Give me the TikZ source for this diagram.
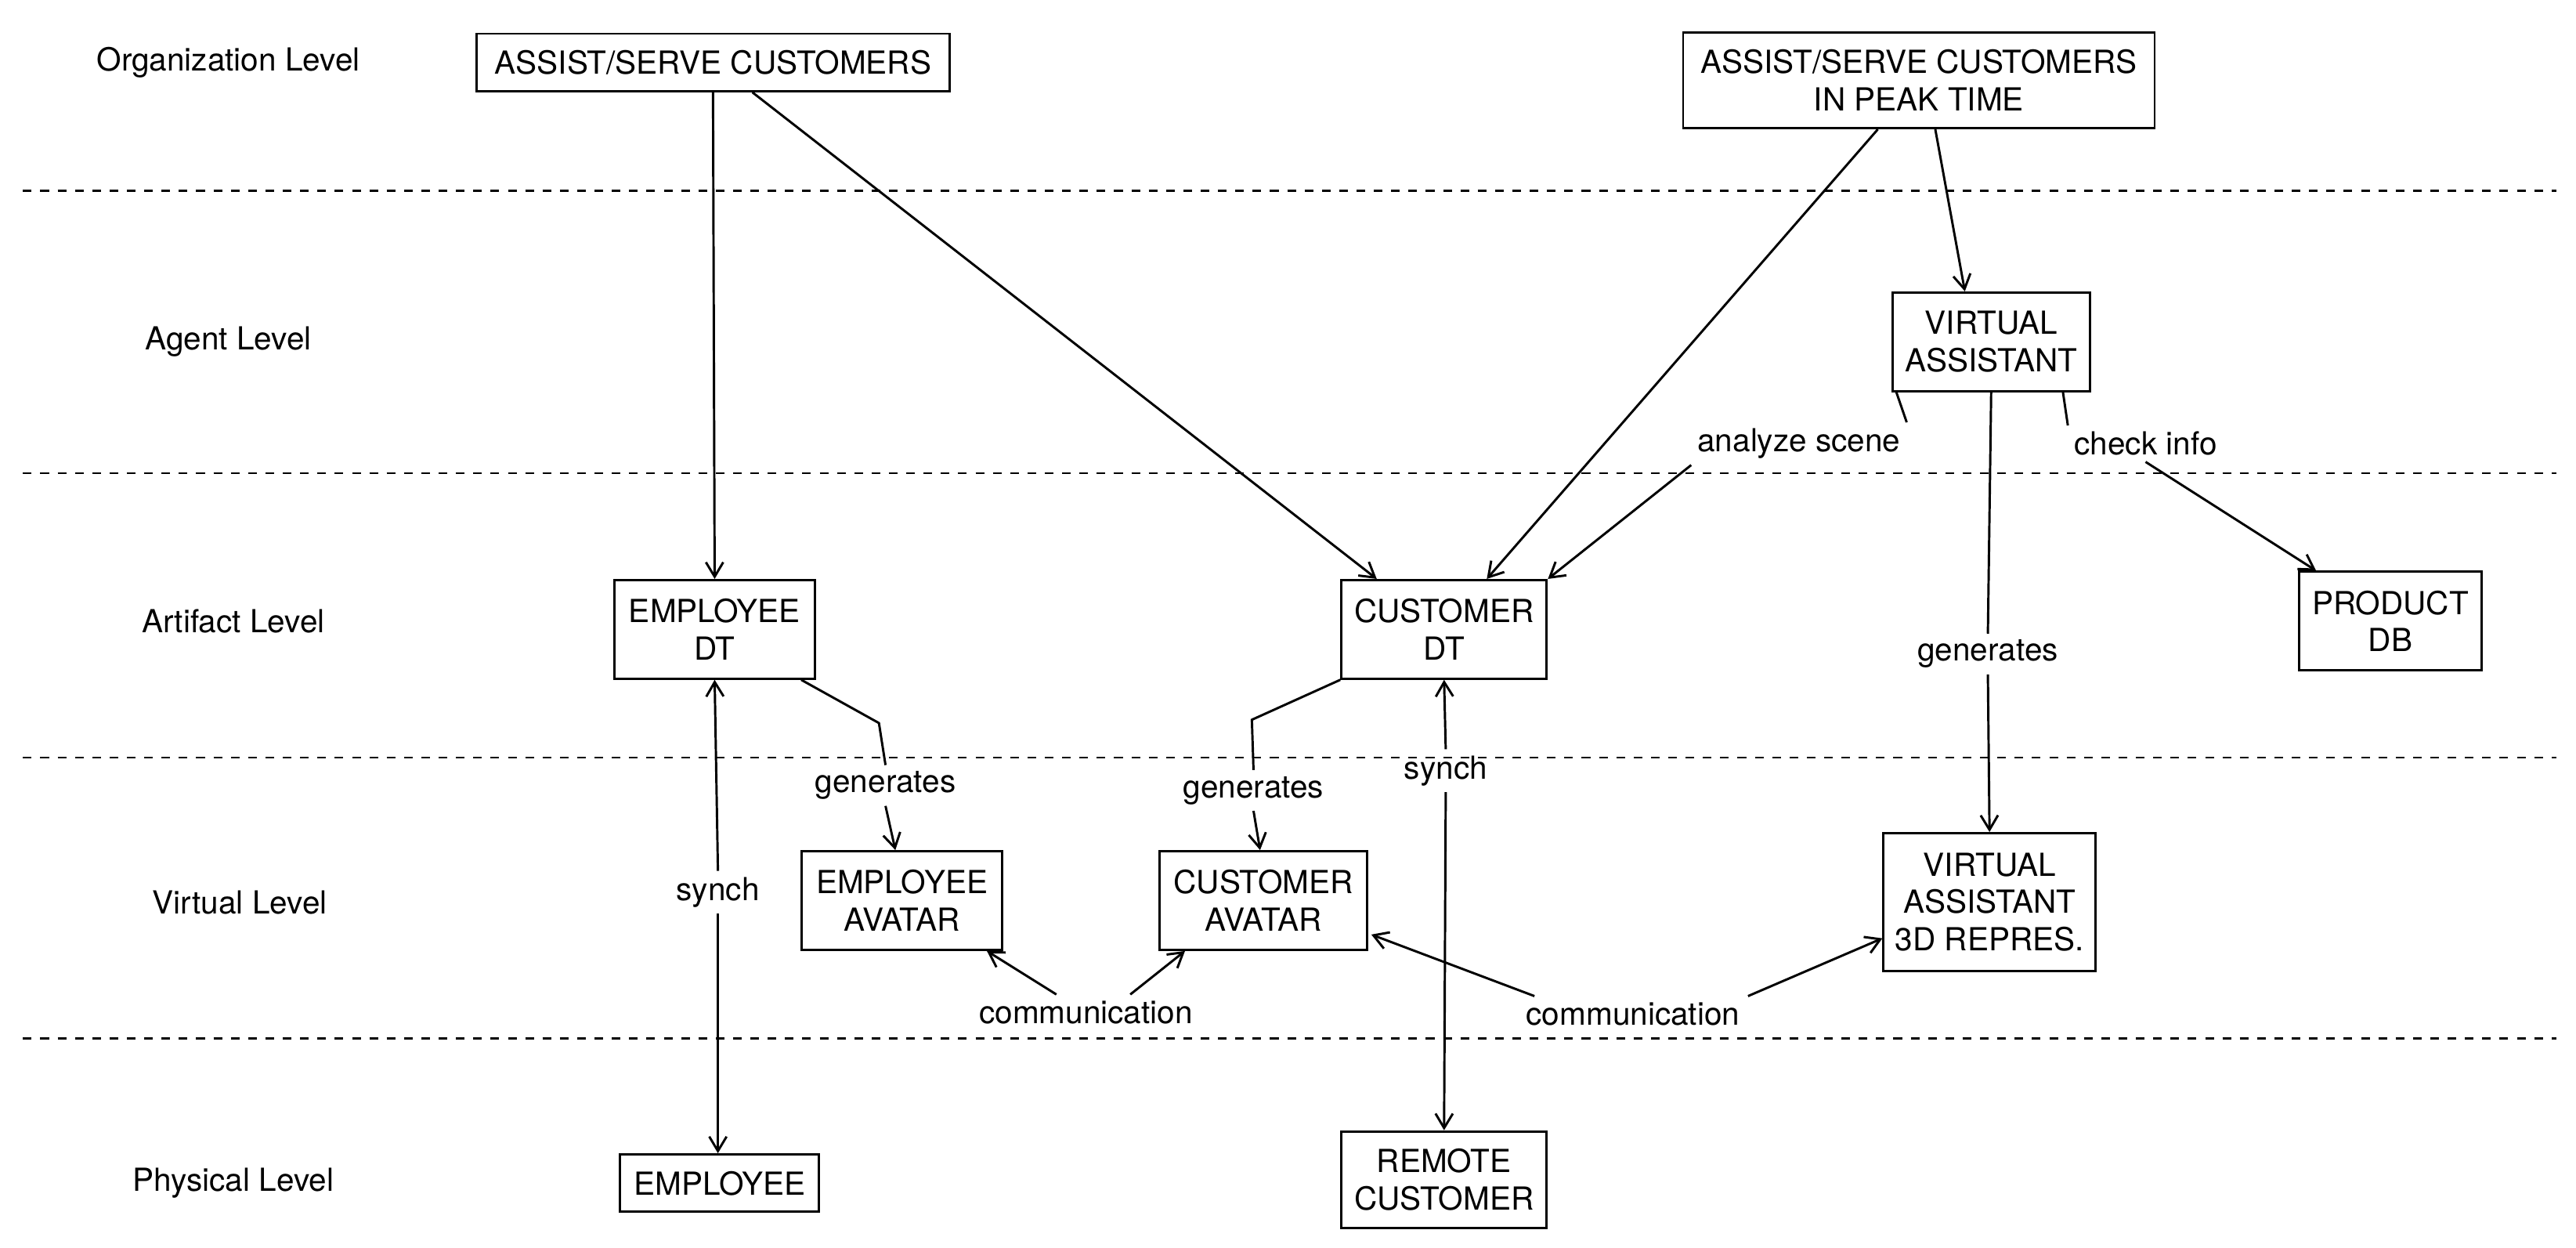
\documentclass[tikz,border=0pt]{standalone}
\usepackage{fontspec}
\setmainfont{TeX Gyre Heros}
\usetikzlibrary{calc,arrows.meta}
\begin{document}
\begin{tikzpicture}[x=0.02cm,y=-0.02cm,
  box/.style={draw,line width=0.8pt,align=center,inner sep=0pt,font=\fontsize{11}{13}\selectfont},
  lbl/.style={inner sep=2pt,font=\fontsize{11}{13}\selectfont},
  lvl/.style={font=\fontsize{11}{13}\selectfont},
  ln/.style={line width=0.8pt},
  ar/.style={ln,-{Straight Barb[length=5pt,width=6pt]}},
  dar/.style={ln,{Straight Barb[length=5pt,width=6pt]}-{Straight Barb[length=5pt,width=6pt]}}]
\useasboundingbox (0,0) rectangle (1568,759);
\foreach \y in {116,288,461,632} \draw[dashed,line width=0.7pt] (14,\y) -- (1556,\y);
\node[lvl] (l1) at (139,38) {Organization Level};
\node[lvl] (l2) at (139,208) {Agent Level};
\node[lvl] (l3) at (142,378) {Artifact Level};
\node[lvl] (l4) at (146,549) {Virtual Level};
\node[lvl] (l5) at (142,720) {Physical Level};
\node[box,minimum width=288*0.02cm,minimum height=35*0.02cm] (a1) at (434,38) {ASSIST/SERVE CUSTOMERS};
\node[box,minimum width=287*0.02cm,minimum height=58*0.02cm] (a2) at (1168,49) {ASSIST/SERVE CUSTOMERS\\IN PEAK TIME};
\node[box,minimum width=120*0.02cm,minimum height=60*0.02cm] (va) at (1212,208) {VIRTUAL\\ASSISTANT};
\node[box,minimum width=122*0.02cm,minimum height=60*0.02cm] (edt) at (435,383) {EMPLOYEE\\DT};
\node[box,minimum width=125*0.02cm,minimum height=60*0.02cm] (cdt) at (879,383) {CUSTOMER\\DT};
\node[box,minimum width=111*0.02cm,minimum height=60*0.02cm] (pdb) at (1455,378) {PRODUCT\\DB};
\node[box,minimum width=122*0.02cm,minimum height=60*0.02cm] (eav) at (549,548) {EMPLOYEE\\AVATAR};
\node[box,minimum width=126*0.02cm,minimum height=60*0.02cm] (cav) at (769,548) {CUSTOMER\\AVATAR};
\node[box,minimum width=129*0.02cm,minimum height=84*0.02cm] (v3d) at (1211,549) {VIRTUAL\\ASSISTANT\\3D REPRES.};
\node[box,minimum width=121*0.02cm,minimum height=35*0.02cm] (emp) at (438,720) {EMPLOYEE};
\node[box,minimum width=125*0.02cm,minimum height=59*0.02cm] (rc) at (879,718) {REMOTE\\CUSTOMER};
% labels
\node[lbl] (as) at (1095,270) {analyze scene};
\node[lbl] (ci) at (1306,270) {check info};
\node[lbl] (g3) at (1210,398) {generates};
\node[lbl] (g1) at (539,478) {generates};
\node[lbl] (g2) at (763,481) {generates};
\node[lbl] (s1) at (437,543) {synch};
\node[lbl] (s2) at (880,469) {synch};
\node[lbl] (c1) at (661,616) {communication};
\node[lbl] (c2) at (994,617) {communication};
% connectors
\draw[ar] (a1.south) -- (edt.north);
\draw[ar] ($(a1.south)+(24,0)$) -- ($(cdt.north)+(-41,0)$);
\draw[ar] ($(a2.south)+(-25,0)$) -- ($(cdt.north)+(26,0)$);
\draw[ar] ($(a2.south)+(10,0)$) -- ($(va.north)+(-16,0)$);
\draw[ln] ($(va.south west)+(3,0)$) -- (as.north east);
\draw[ar] (as.south west) -- (cdt.north east);
\draw[ln] ($(va.south east)+(-17,0)$) -- (ci.north west);
\draw[ar] (ci.south) -- ($(pdb.north west)+(11,0)$);
\draw[ln] (va.south) -- (g3.north);
\draw[ar] (g3.south) -- (v3d.north);
\draw[ln] ($(edt.south east)+(-9,0)$) -- (535,440) -- (g1.north);
\draw[ar] (g1.south) -- ($(eav.north)+(-4,0)$);
\draw[ln] (cdt.south west) -- (762,438) -- (g2.north);
\draw[ar] (g2.south) -- ($(cav.north)+(-2,0)$);
\draw[ln,{Straight Barb[length=5pt,width=6pt]}-] (edt.south) -- (s1.north);
\draw[ar] (s1.south) -- ($(emp.north)+(-1,0)$);
\draw[ln,{Straight Barb[length=5pt,width=6pt]}-] (cdt.south) -- (s2.north);
\draw[ar] (s2.south) -- (rc.north);
\draw[ar] ($(c1.north)+(-18,0)$) -- ($(eav.south east)+(-10,0)$);
\draw[ar] ($(c1.north)+(27,0)$) -- ($(cav.south west)+(16,0)$);
\draw[ar] ($(c2.north)+(-60,0)$) -- ($(cav.south east)+(2,-10)$);
\draw[ar] ($(c2.north)+(70,0)$) -- ($(v3d.west)+(0,22)$);
\end{tikzpicture}
\end{document}
